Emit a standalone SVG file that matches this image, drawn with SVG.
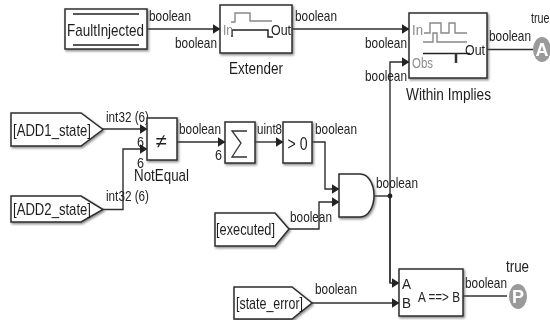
<svg xmlns="http://www.w3.org/2000/svg" width="550" height="320" viewBox="0 0 550 320">
<defs>
<style>
text{font-family:"Liberation Sans",Arial,sans-serif;font-size:14.500px;fill:#222}
.b{fill:#fff;stroke:#2e2e2e;stroke-width:1.5;filter:url(#sh)}
.w{fill:none;stroke:#2e2e2e;stroke-width:1.4}
.g{fill:none;stroke:#888;stroke-width:1.4}
.k{fill:none;stroke:#222;stroke-width:1.5}
.gt{fill:#8a8a8a}
.l{font-size:17px;fill:#1e1e1e}
.c{fill:#fff;font-weight:bold;font-size:18px}
</style>
<filter id="sh" x="-10%" y="-10%" width="125%" height="125%"><feDropShadow dx="1.2" dy="1.5" stdDeviation="0.9" flood-color="#555" flood-opacity="0.7"/></filter>
<filter id="soft" x="0" y="0" width="100%" height="100%"><feGaussianBlur stdDeviation="0.35"/></filter>
<marker id="a" markerUnits="userSpaceOnUse" markerWidth="8" markerHeight="10" refX="7.500" refY="5" orient="auto"><path d="M0 0L8 5L0 10Z" fill="#222"/></marker>
</defs>
<g filter="url(#soft)">
<rect width="550" height="320" fill="#fff"/>
<g id="connectors">
<path class="w" marker-end="url(#a)" d="M147 29H220"/>
<path class="w" marker-end="url(#a)" d="M292 29H409"/>
<path class="w" marker-end="url(#a)" d="M390 283V62H409"/>
<path class="w" d="M487 49.500H533"/>
<path class="w" marker-end="url(#a)" d="M102 129H147"/>
<path class="w" marker-end="url(#a)" d="M103 209.500H123V149H147"/>
<path class="w" marker-end="url(#a)" d="M176 142H225"/>
<path class="w" marker-end="url(#a)" d="M255 142H283"/>
<path class="w" marker-end="url(#a)" d="M312 142H325V189H339"/>
<path class="w" marker-end="url(#a)" d="M288 229H319V202H339"/>
<path class="w" d="M374 196H390"/>
<path class="w" marker-end="url(#a)" d="M390 196V283H399"/>
<path class="w" marker-end="url(#a)" d="M312 303H399"/>
<path class="w" d="M463 296H507"/>
<circle cx="390" cy="196" r="2.400" fill="#222"/>
</g>
<g id="labels">
<text x="149" y="21" textLength="42" lengthAdjust="spacingAndGlyphs">boolean</text>
<text x="175" y="48" textLength="42" lengthAdjust="spacingAndGlyphs">boolean</text>
<text x="295" y="21" textLength="42" lengthAdjust="spacingAndGlyphs">boolean</text>
<text x="365" y="48" textLength="42" lengthAdjust="spacingAndGlyphs">boolean</text>
<text x="365" y="81" textLength="42" lengthAdjust="spacingAndGlyphs">boolean</text>
<text x="489" y="41" textLength="42" lengthAdjust="spacingAndGlyphs">boolean</text>
<text x="531" y="23" textLength="18.500" lengthAdjust="spacingAndGlyphs">true</text>
<text x="106" y="122" textLength="43" lengthAdjust="spacingAndGlyphs">int32 (6)</text>
<text x="106" y="201" textLength="43" lengthAdjust="spacingAndGlyphs">int32 (6)</text>
<text x="137" y="147" textLength="7" lengthAdjust="spacingAndGlyphs">6</text>
<text x="137" y="168" textLength="7" lengthAdjust="spacingAndGlyphs">6</text>
<text x="179" y="134" textLength="42" lengthAdjust="spacingAndGlyphs">boolean</text>
<text x="215" y="160" textLength="7" lengthAdjust="spacingAndGlyphs">6</text>
<text x="257" y="134" textLength="25" lengthAdjust="spacingAndGlyphs">uint8</text>
<text x="315" y="134" textLength="42" lengthAdjust="spacingAndGlyphs">boolean</text>
<text x="376" y="188" textLength="42" lengthAdjust="spacingAndGlyphs">boolean</text>
<text x="290" y="222" textLength="42" lengthAdjust="spacingAndGlyphs">boolean</text>
<text x="315" y="294" textLength="42" lengthAdjust="spacingAndGlyphs">boolean</text>
<text x="465" y="288" textLength="42" lengthAdjust="spacingAndGlyphs">boolean</text>
<text x="506" y="272" textLength="23" lengthAdjust="spacingAndGlyphs" style="font-size:17px">true</text>
</g>
<g id="fault-injected">
<rect class="b" x="65" y="9" width="82" height="40"/>
<path class="k" d="M73 14H139M73 45H139"/>
<text class="l" x="67" y="36" textLength="77" lengthAdjust="spacingAndGlyphs">FaultInjected</text>
</g>
<g id="extender">
<rect class="b" x="220" y="5" width="72" height="48"/>
<path class="g" d="M231 22H235V13H250V21H272"/>
<path class="k" d="M232 37V30H268V37H273"/>
<text class="gt" x="223" y="35" textLength="10" lengthAdjust="spacingAndGlyphs">In</text>
<text x="271" y="35" textLength="20" lengthAdjust="spacingAndGlyphs">Out</text>
<text class="l" x="229" y="74" textLength="54" lengthAdjust="spacingAndGlyphs">Extender</text>
</g>
<g id="within-implies">
<rect class="b" x="409" y="13" width="78" height="65"/>
<path class="g" d="M424 33H430V23H441V33H449V23H455V33H467"/>
<path class="g" d="M423 42H433V33H437V42H467"/>
<path class="k" d="M423 53.500H470"/>
<path d="M456 53V63" fill="none" stroke="#333" stroke-width="2.500"/>
<text class="gt" x="412" y="35" textLength="11" lengthAdjust="spacingAndGlyphs">In</text>
<text class="gt" x="412" y="68" textLength="21" lengthAdjust="spacingAndGlyphs">Obs</text>
<text x="465" y="55" textLength="20" lengthAdjust="spacingAndGlyphs">Out</text>
<text class="l" x="406" y="100" textLength="85" lengthAdjust="spacingAndGlyphs">Within Implies</text>
</g>
<g id="assert-a">
<ellipse cx="542" cy="49.500" rx="9" ry="12.500" fill="#9a9a9a"/>
<text class="c" x="542" y="56" text-anchor="middle">A</text>
</g>
<g id="add1-state">
<path class="b" d="M11 113H81L103 129.500L81 146H11Z"/>
<text class="l" x="13" y="136" textLength="78" lengthAdjust="spacingAndGlyphs">[ADD1_state]</text>
</g>
<g id="add2-state">
<path class="b" d="M11 196H81L103 209.500L81 222H11Z"/>
<text class="l" x="13" y="215" textLength="78" lengthAdjust="spacingAndGlyphs">[ADD2_state]</text>
</g>
<g id="not-equal">
<rect class="b" x="147" y="118" width="30" height="42"/>
<text x="161" y="148" text-anchor="middle" style="font-size:20px">≠</text>
<text class="l" x="134" y="181" textLength="55" lengthAdjust="spacingAndGlyphs">NotEqual</text>
</g>
<g id="sum">
<rect class="b" x="225" y="122" width="30" height="41"/>
<path d="M247 131H232L241 143L232 157H247" fill="none" stroke="#333" stroke-width="1.300"/>
</g>
<g id="greater-than-zero">
<rect class="b" x="283" y="122" width="29" height="41"/>
<text x="297.500" y="150" text-anchor="middle" textLength="20" lengthAdjust="spacingAndGlyphs" style="font-size:18px">&gt; 0</text>
</g>
<g id="and">
<path class="b" d="M339 174H360C369 174 374 185 374 195.500C374 206 369 217 360 217H339Z"/>
</g>
<g id="executed">
<path class="b" d="M215 213H275L289 229L275 246H215Z"/>
<text class="l" x="216" y="235" textLength="59" lengthAdjust="spacingAndGlyphs">[executed]</text>
</g>
<g id="state-error">
<path class="b" d="M234 287H292L312 303L292 319H234Z"/>
<text class="l" x="236" y="309" textLength="67" lengthAdjust="spacingAndGlyphs">[state_error]</text>
</g>
<g id="implies">
<rect class="b" x="399" y="269" width="64" height="47"/>
<text x="402" y="289" textLength="9" lengthAdjust="spacingAndGlyphs">A</text>
<text x="402" y="308" textLength="9" lengthAdjust="spacingAndGlyphs">B</text>
<text x="418" y="302" textLength="42" lengthAdjust="spacingAndGlyphs">A ==&gt; B</text>
</g>
<g id="assert-p">
<ellipse cx="518" cy="296.500" rx="9" ry="12.500" fill="#9a9a9a"/>
<text class="c" x="518" y="303" text-anchor="middle">P</text>
</g>
</g>
</svg>
